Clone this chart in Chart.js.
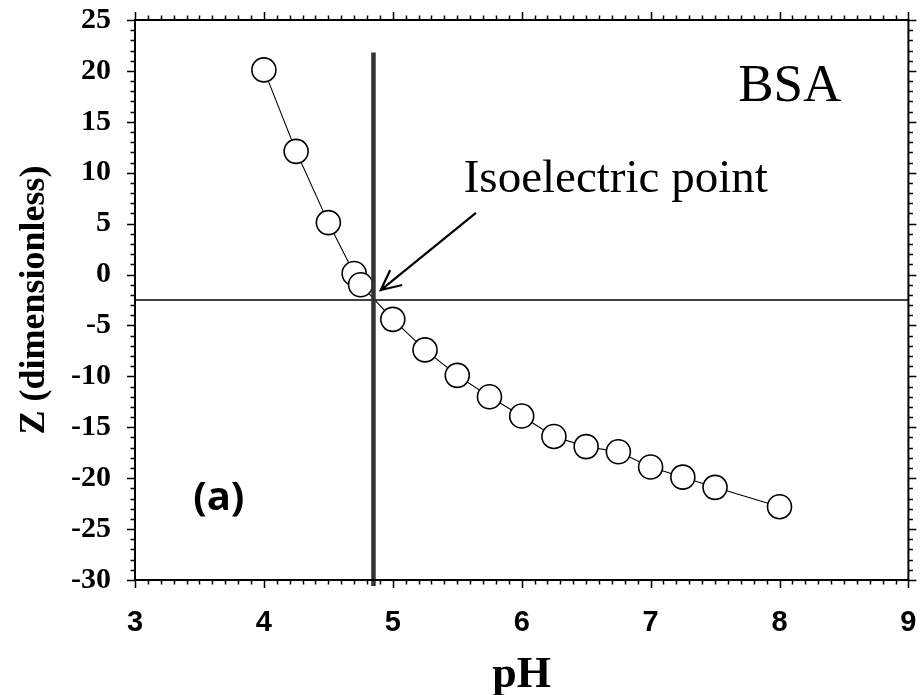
<!DOCTYPE html>
<html>
<head>
<meta charset="utf-8">
<script src="https://cdn.jsdelivr.net/npm/chart.js@4.4.1/dist/chart.umd.min.js"></script>
<style>
  html, body { margin: 0; padding: 0; background: #fff; }
  #c { display: block; }
</style>
</head>
<body>
<canvas id="c" width="922" height="695"></canvas>
<script>
// ---- Data ----
const pH = [4.0, 4.25, 4.5, 4.7, 4.75, 5.0, 5.25, 5.5, 5.75, 6.0, 6.25, 6.5, 6.75, 7.0, 7.25, 7.5, 8.0];
const Z  = [20.1, 12.1, 5.1, 0.1, -1.0, -4.4, -7.4, -9.9, -12.0, -13.9, -15.9, -16.9, -17.4, -18.9, -19.9, -20.9, -22.8];
const isoelectricPH = 4.85;
const isoelectricZ = -2.5;
const verticalLineZ = [21.8, -30.6];
const xRange = [3, 9];
const yRange = [-30, 25];
const xStep = 1, xMinorStep = 0.1;
const yStep = 5, yMinorStep = 1;
const xTitle = 'pH';
const yTitle = 'Z (dimensionless)';
const labelBSA = { text: 'BSA', x: 8.08, y: 17.0 };
const labelIso = { text: 'Isoelectric point', x: 5.55, y: 8.1 };
const arrowIso = { from: [5.64, 6.0], to: [4.907, -1.52] };
const labelA = { text: '(a)', x: 3.65, y: -22.0 };

const mainPoints = pH.map((x, i) => ({ x, y: Z[i] }));
const vLine = verticalLineZ.map(y => ({ x: isoelectricPH, y }));
const hLine = xRange.map(x => ({ x, y: isoelectricZ }));

const framePlugin = {
  id: 'frameTicks',
  afterDraw(chart) {
    const { ctx, chartArea: a, scales } = chart;
    const xs = scales.x, ys = scales.y;
    ctx.save();
    ctx.strokeStyle = '#000';
    ctx.lineWidth = 1.5;
    ctx.beginPath();
    const nx = Math.round((xRange[1] - xRange[0]) / xMinorStep);
    for (let i = 0; i <= nx; i++) {
      const v = xRange[0] + i * xMinorStep;
      const px = Math.round(xs.getPixelForValue(v)) + 0.5;
      const major = i % Math.round(xStep / xMinorStep) === 0;
      const len = major ? 8 : 4.5;
      ctx.moveTo(px, a.bottom); ctx.lineTo(px, a.bottom + len);
      ctx.moveTo(px, a.top); ctx.lineTo(px, a.top - len);
    }
    const ny = Math.round((yRange[1] - yRange[0]) / yMinorStep);
    for (let i = 0; i <= ny; i++) {
      const v = yRange[0] + i * yMinorStep;
      const py = Math.round(ys.getPixelForValue(v)) + 0.5;
      const major = i % Math.round(yStep / yMinorStep) === 0;
      const len = major ? 8 : 4.5;
      ctx.moveTo(a.left, py); ctx.lineTo(a.left - len, py);
      ctx.moveTo(a.right, py); ctx.lineTo(a.right + len, py);
    }
    ctx.stroke();
    ctx.lineWidth = 2;
    ctx.strokeRect(a.left, a.top, a.right - a.left, a.bottom - a.top);

    ctx.fillStyle = '#000';
    ctx.textBaseline = 'alphabetic';
    ctx.font = '53px "Liberation Serif", "Times New Roman", serif';
    ctx.textAlign = 'center';
    ctx.fillText(labelBSA.text, xs.getPixelForValue(labelBSA.x), ys.getPixelForValue(labelBSA.y));
    ctx.font = '47px "Liberation Serif", "Times New Roman", serif';
    ctx.textAlign = 'left';
    ctx.fillText(labelIso.text, xs.getPixelForValue(labelIso.x), ys.getPixelForValue(labelIso.y));
    ctx.font = 'bold 40px "Open Sans", Lato, sans-serif';
    ctx.textAlign = 'center';
    ctx.textBaseline = 'middle';
    ctx.fillText(labelA.text, xs.getPixelForValue(labelA.x), ys.getPixelForValue(labelA.y));

    const x0 = xs.getPixelForValue(arrowIso.from[0]), y0 = ys.getPixelForValue(arrowIso.from[1]);
    const x1 = xs.getPixelForValue(arrowIso.to[0]), y1 = ys.getPixelForValue(arrowIso.to[1]);
    const ang = Math.atan2(y1 - y0, x1 - x0);
    const hl = 21, ha = 0.45;
    ctx.lineWidth = 2.2;
    ctx.lineCap = 'round';
    ctx.beginPath();
    ctx.moveTo(x0, y0); ctx.lineTo(x1, y1);
    ctx.moveTo(x1 - hl * Math.cos(ang - ha), y1 - hl * Math.sin(ang - ha));
    ctx.lineTo(x1, y1);
    ctx.lineTo(x1 - hl * Math.cos(ang + ha), y1 - hl * Math.sin(ang + ha));
    ctx.stroke();
    ctx.restore();
  }
};

function zeroPad(s) { s.paddingTop = 0; s.paddingBottom = 0; s.paddingLeft = 0; s.paddingRight = 0; }

new Chart(document.getElementById('c'), {
  type: 'scatter',
  data: {
    datasets: [
      {
        data: hLine, showLine: true, borderColor: '#000', borderWidth: 1.5,
        pointRadius: 0, order: 3
      },
      {
        data: mainPoints, showLine: true, borderColor: '#000', borderWidth: 1.1,
        pointRadius: 12, pointBorderWidth: 1.6, pointBackgroundColor: '#fff',
        pointBorderColor: '#000', order: 2
      },
      {
        data: vLine, showLine: true, borderColor: '#333', borderWidth: 4.5,
        pointRadius: 0, order: 1, clip: false
      }
    ]
  },
  options: {
    responsive: false,
    animation: false,
    events: [],
    layout: { padding: { top: 20, right: 11, left: 0, bottom: 0 } },
    plugins: { legend: { display: false }, tooltip: { enabled: false } },
    scales: {
      x: {
        type: 'linear', min: xRange[0], max: xRange[1],
        ticks: {
          stepSize: xStep, color: '#000', padding: 26,
          font: { family: '"Liberation Sans", Arial, sans-serif', size: 29, weight: 'bold' }
        },
        grid: { drawOnChartArea: false, drawTicks: false, color: 'rgba(0,0,0,0)' },
        border: { display: false },
        title: {
          display: true, text: xTitle, color: '#000', padding: 0,
          font: { family: '"Liberation Serif", "Times New Roman", serif', size: 44, weight: 'bold', lineHeight: 0.87 }
        },
        afterFit(s) { s.height = 115; zeroPad(s); }
      },
      y: {
        type: 'linear', min: yRange[0], max: yRange[1],
        ticks: {
          stepSize: yStep, color: '#000', padding: 24,
          font: { family: '"Liberation Serif", "Times New Roman", serif', size: 30, weight: 'bold' }
        },
        grid: { drawOnChartArea: false, drawTicks: false, color: 'rgba(0,0,0,0)' },
        border: { display: false },
        title: {
          display: true, text: yTitle, color: '#000', padding: { top: 13, bottom: 0 },
          font: { family: '"Liberation Serif", "Times New Roman", serif', size: 36, weight: 'bold', lineHeight: 1.2 }
        },
        afterFit(s) { s.width = 135; zeroPad(s); }
      }
    }
  },
  plugins: [framePlugin]
});
</script>
</body>
</html>
